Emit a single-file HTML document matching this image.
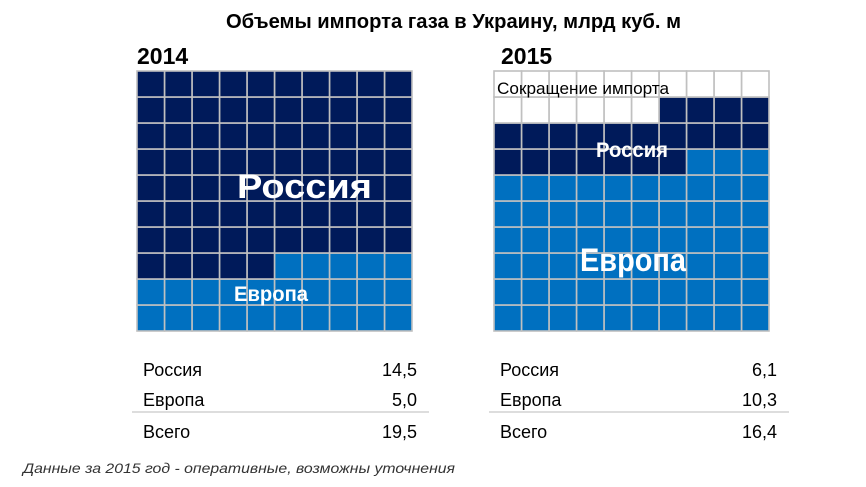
<!DOCTYPE html>
<html><head><meta charset="utf-8"><style>
html,body{margin:0;padding:0;background:#fff;}
svg{display:block;font-family:"Liberation Sans Narrow","Liberation Sans",sans-serif;}
</style></head><body>
<svg id="chart" width="866" height="487" viewBox="0 0 866 487">
<text x="226" y="28" font-size="20" font-weight="bold" textLength="455" lengthAdjust="spacingAndGlyphs">Объемы импорта газа в Украину, млрд куб. м</text>
<g id="panels"></g>
<text x="23" y="473" font-size="14" font-style="italic" fill="#333" textLength="432" lengthAdjust="spacingAndGlyphs" font-family="Liberation Sans, sans-serif">Данные за 2015 год - оперативные, возможны уточнения</text>
</svg>
<script>
const years = ["2014", "2015"];
const russiaValues = [14.5, 6.1];
const europeValues = [5.0, 10.3];
const totalValues = [19.5, 16.4];
const russiaCells = [75, 21];
const europeCells = [25, 63];
const rowLabels = ["Россия", "Европа", "Всего"];

const NS = "http://www.w3.org/2000/svg";
const g = document.getElementById("panels");
function mk(tag, attrs, parent) {
  const e = document.createElementNS(NS, tag);
  for (const k in attrs) e.setAttribute(k, attrs[k]);
  (parent || g).appendChild(e);
  return e;
}
const panelX = [137, 494];
const gridW = 275, gridH = 260, gridY = 71;
const cw = gridW / 10, ch = gridH / 10;
const fmt = v => v.toFixed(1).replace(".", ",");

years.forEach((yr, p) => {
  const x0 = panelX[p];
  const yt = mk("text", {x: x0 + (p ? 7 : 0), y: 64, "font-size": 23, "font-weight": "bold"});
  yt.textContent = yr;
  
  
  // cells: filled from bottom row, right to left
  for (let i = 0; i < 100; i++) {
    const row = 9 - Math.floor(i / 10);
    const col = 9 - (i % 10);
    let fill = "#ffffff", nm = "empty";
    if (i < europeCells[p]) { fill = "#0070c0"; nm = "europe"; }
    else if (i < europeCells[p] + russiaCells[p]) { fill = "#001a5a"; nm = "russia"; }
    const r = mk("rect", {x: x0 + col * cw, y: gridY + row * ch, width: cw, height: ch, fill: fill, stroke: "#c0c0c0", "stroke-width": 1.6});
    
    
  }
  // table
  const vals = [russiaValues[p], europeValues[p], totalValues[p]];
  const baseY = [376, 406, 438];
  const right = p ? 777 : 417;
  rowLabels.forEach((lab, j) => {
    const t = mk("text", {x: x0 + 6, y: baseY[j], "font-size": 18});
    t.textContent = lab;
    
    
    const v = mk("text", {x: right, y: baseY[j], "font-size": 18, "text-anchor": "end"});
    v.textContent = fmt(vals[j]);
    
    
  });
  const ln = mk("line", {x1: x0 - 5, x2: right + 12, y1: 412, y2: 412, stroke: "#bbb", "stroke-width": 1});
  
  
});

function label(txt, x, y, size, w, color, name) {
  const t = mk("text", {x: x, y: y, "font-size": size, "font-weight": color === "#000" ? "normal" : "bold", fill: color, textLength: w, lengthAdjust: "spacingAndGlyphs"});
  t.textContent = txt;
  
  
}
label("Россия", 237, 198, 34, 135, "#fff", "label-russia-2014");
label("Европа", 234, 301, 21, 74, "#fff", "label-europe-2014");
label("Сокращение импорта", 497, 94, 17, 172, "#000", "label-reduction-2015");
label("Россия", 596, 157, 21, 72, "#fff", "label-russia-2015");
label("Европа", 580, 271, 32, 106, "#fff", "label-europe-2015");
</script>
</body></html>
